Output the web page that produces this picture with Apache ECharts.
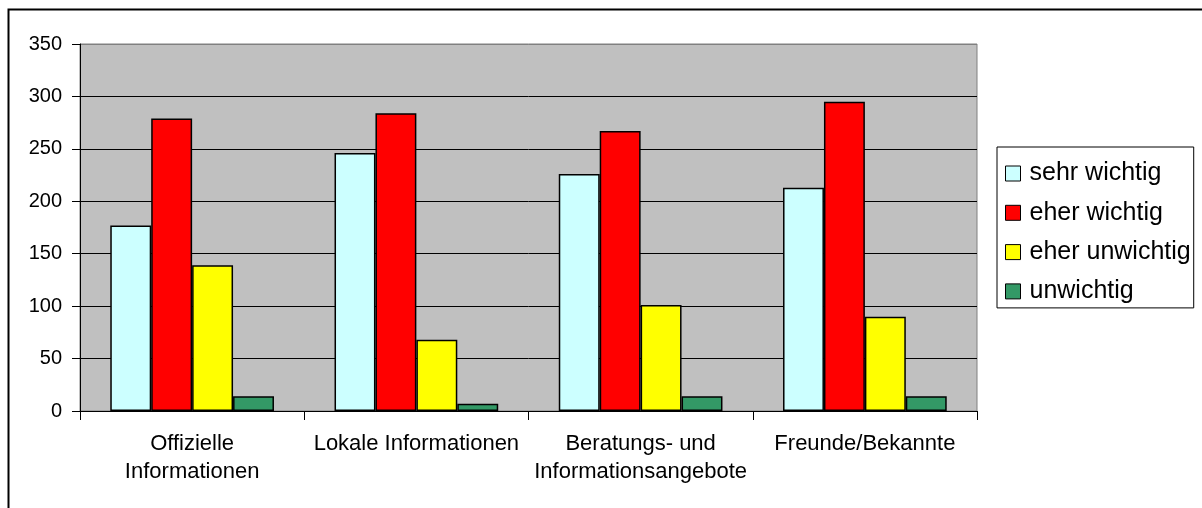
<!DOCTYPE html>
<html>
<head>
<meta charset="utf-8">
<script src="https://cdn.jsdelivr.net/npm/echarts@6/dist/echarts.min.js"></script>
<style>
  html, body { margin: 0; padding: 0; background: #fff; }
  #chart { width: 1202px; height: 508px; }
</style>
</head>
<body>
<div id="chart"></div>
<script>
// Source categories (information sources) and importance ratings
const categories = [
  'Offizielle\nInformationen',
  'Lokale Informationen',
  'Beratungs- und\nInformationsangebote',
  'Freunde/Bekannte'
];
const seriesNames = ['sehr wichtig', 'eher wichtig', 'eher unwichtig', 'unwichtig'];
const sehrWichtig = [177, 246, 226, 213];
const eherWichtig = [279, 284, 267, 295];
const eherUnwichtig = [139, 68, 101, 90];
const unwichtig = [14, 7, 14, 14];
const yTicks = [0, 50, 100, 150, 200, 250, 300, 350];

const seriesValues = [sehrWichtig, eherWichtig, eherUnwichtig, unwichtig];
const colors = ['#CCFFFF', '#FF0000', '#FFFF00', '#339966'];
const FONT = '"Liberation Sans", Arial, sans-serif';

const chart = echarts.init(document.getElementById('chart'), null, { renderer: 'canvas' });

chart.setOption({
  animation: false,
  backgroundColor: '#ffffff',
  graphic: [{
    type: 'rect',
    left: 6, top: 7,
    shape: { x: 0, y: 0, width: 1400, height: 700 },
    style: { fill: 'none', stroke: '#000', lineWidth: 2 },
    silent: true,
    z: 100
  }],
  grid: {
    left: 80, top: 44, width: 897, height: 367,
    show: true,
    backgroundColor: '#C0C0C0',
    borderColor: '#808080',
    borderWidth: 1
  },
  legend: {
    orient: 'vertical',
    left: 997, top: 147,
    padding: [14, 3, 4, 8],
    itemGap: 14.3,
    itemWidth: 15,
    itemHeight: 15,
    itemStyle: { borderColor: '#000', borderWidth: 1 },
    borderColor: '#000',
    borderWidth: 1,
    backgroundColor: '#fff',
    icon: 'rect',
    textStyle: { fontFamily: FONT, fontSize: 25, lineHeight: 24, color: '#000', padding: [0, 0, 0, 4] },
    data: seriesNames
  },
  xAxis: {
    type: 'category',
    data: categories,
    axisLine: { lineStyle: { color: '#000', width: 1 } },
    axisTick: { show: true, length: 9, lineStyle: { color: '#000' } },
    axisLabel: {
      interval: 0,
      margin: 19,
      color: '#000',
      fontFamily: FONT,
      fontSize: 22,
      lineHeight: 28
    }
  },
  yAxis: {
    type: 'value',
    min: yTicks[0],
    max: yTicks[yTicks.length - 1],
    interval: yTicks[1] - yTicks[0],
    axisLine: { show: true, lineStyle: { color: '#000', width: 1 } },
    axisTick: { show: true, length: 8, lineStyle: { color: '#000' } },
    axisLabel: {
      margin: 18,
      color: '#000',
      fontFamily: FONT,
      fontSize: 20
    },
    splitLine: {
      show: true,
      lineStyle: { color: ['#000', '#000', '#000', '#000', '#000', '#000', '#000', '#808080'], width: 1 }
    }
  },
  series: seriesNames.map((name, i) => ({
    name,
    type: 'bar',
    data: seriesValues[i],
    barGap: '0%',
    barCategoryGap: '27%',
    itemStyle: { color: colors[i], borderColor: '#000', borderWidth: 1.5 }
  }))
});
</script>
</body>
</html>
